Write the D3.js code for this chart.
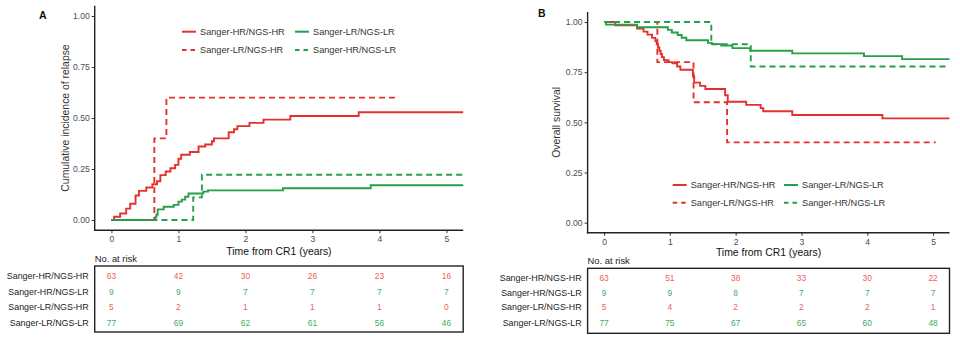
<!DOCTYPE html>
<html>
<head>
<meta charset="utf-8">
<script src="https://cdn.jsdelivr.net/npm/d3@7"></script>
<style>
  body { margin: 0; background: #fff; }
  svg { display: block; font-family: "Liberation Sans", Arial, sans-serif; }
</style>
</head>
<body>
<svg id="chart" width="960" height="340"></svg>
<script>
// tick values and labels
const timeTicks = [0, 1, 2, 3, 4, 5];
const probTicks = [0, 0.25, 0.5, 0.75, 1];
const legendNames = ["Sanger-HR/NGS-HR", "Sanger-LR/NGS-LR", "Sanger-LR/NGS-HR", "Sanger-HR/NGS-LR"];
const riskRowNames = ["Sanger-HR/NGS-HR", "Sanger-HR/NGS-LR", "Sanger-LR/NGS-HR", "Sanger-LR/NGS-LR"];

// Panel A: cumulative incidence of relapse (step times and values)
const relHRHR_t = [0, 0.04, 0.13, 0.22, 0.28, 0.36, 0.41, 0.52, 0.61, 0.68, 0.73, 0.81, 0.88, 0.95, 1.00, 1.04, 1.17, 1.30, 1.40, 1.50, 1.53, 1.75, 1.83, 1.88, 2.06, 2.27, 2.67, 3.69, 5.25];
const relHRHR_v = [0, 0.016, 0.032, 0.056, 0.08, 0.12, 0.143, 0.159, 0.175, 0.19, 0.22, 0.238, 0.254, 0.27, 0.30, 0.32, 0.333, 0.36, 0.37, 0.386, 0.40, 0.43, 0.445, 0.46, 0.476, 0.492, 0.51, 0.528, 0.528];
const relLRLR_t = [0, 0.65, 0.67, 0.69, 0.78, 0.93, 1.00, 1.05, 1.10, 1.15, 1.37, 1.44, 2.56, 3.87, 5.25];
const relLRLR_v = [0, 0.013, 0.026, 0.052, 0.065, 0.074, 0.09, 0.10, 0.114, 0.13, 0.139, 0.145, 0.156, 0.17, 0.17];
const relLRHR_t = [0, 0.64, 0.82, 4.23];
const relLRHR_v = [0, 0.40, 0.60, 0.60];
const relHRLR_t = [0, 1.22, 1.35, 5.25];
const relHRLR_v = [0, 0.111, 0.222, 0.222];

// Panel B: overall survival
const osHRHR_t = [0, 0.17, 0.50, 0.60, 0.66, 0.73, 0.78, 0.80, 0.82, 0.84, 0.86, 0.88, 0.91, 0.98, 1.04, 1.11, 1.16, 1.35, 1.37, 1.46, 1.54, 1.84, 1.88, 2.16, 2.38, 2.42, 2.86, 4.23, 5.25];
const osHRHR_v = [1, 0.984, 0.968, 0.952, 0.937, 0.921, 0.905, 0.889, 0.873, 0.857, 0.841, 0.825, 0.810, 0.800, 0.794, 0.778, 0.762, 0.730, 0.698, 0.682, 0.666, 0.635, 0.603, 0.587, 0.571, 0.555, 0.537, 0.52, 0.52];
const osLRLR_t = [0, 0.03, 0.50, 0.97, 1.03, 1.12, 1.18, 1.25, 1.58, 1.64, 1.78, 1.95, 2.22, 2.86, 3.95, 4.53, 5.25];
const osLRLR_v = [1, 0.987, 0.974, 0.961, 0.948, 0.935, 0.922, 0.909, 0.896, 0.89, 0.883, 0.87, 0.857, 0.844, 0.83, 0.815, 0.815];
const osLRHR_t = [0, 0.81, 1.36, 1.87, 5.04];
const osLRHR_v = [1, 0.80, 0.60, 0.40, 0.40];
const osHRLR_t = [0, 1.63, 2.23, 5.25];
const osHRLR_v = [1, 0.889, 0.778, 0.778];

// numbers at risk (rows follow riskRowNames)
const riskA = [[63, 42, 30, 26, 23, 16], [9, 9, 7, 7, 7, 7], [5, 2, 1, 1, 1, 0], [77, 69, 62, 61, 56, 46]];
const riskB = [[63, 51, 38, 33, 30, 22], [9, 9, 8, 7, 7, 7], [5, 4, 2, 2, 2, 1], [77, 75, 67, 65, 60, 48]];

const RED = "#e4312d";
const GREEN = "#25a047";
const RED_TXT = "#ee5f5b";
const GREEN_TXT = "#46ab63";

const svg = d3.select("#chart");

function drawPanel(p) {
    const x = d3.scaleLinear().domain([-0.25, 5.25]).range([p.left, p.right]);
    const y = d3.scaleLinear().domain([-0.05, 1.05]).range([p.bottom, p.top]);
    const g = svg.append("g");

    // panel letter
    g.append("text").attr("x", p.letterX).attr("y", p.letterY)
        .attr("font-size", 10.5).attr("font-weight", "bold").attr("fill", "#111")
        .attr("dominant-baseline", "central").text(p.letter);

    // y axis
    const ya = g.append("g").attr("transform", "translate(" + p.left + ",0)")
        .call(d3.axisLeft(y).tickValues(probTicks).tickFormat(d3.format(".2f")).tickSize(3).tickPadding(2));
    ya.select(".domain").remove();
    ya.selectAll("line").attr("stroke", "#333");
    ya.selectAll("text").attr("fill", "#4d4d4d").attr("font-size", 8.6).attr("font-family", null);

    // x axis
    const xa = g.append("g").attr("transform", "translate(0," + p.bottom + ")")
        .call(d3.axisBottom(x).tickValues(timeTicks).tickFormat(d3.format("d")).tickSize(3).tickPadding(3));
    xa.select(".domain").remove();
    xa.selectAll("line").attr("stroke", "#333");
    xa.selectAll("text").attr("fill", "#4d4d4d").attr("font-size", 8.6).attr("font-family", null);

    // axis lines
    g.append("line").attr("x1", p.left).attr("x2", p.left).attr("y1", p.top).attr("y2", p.bottom + 0.7)
        .attr("stroke", "#222").attr("stroke-width", 1.4);
    g.append("line").attr("x1", p.left - 0.7).attr("x2", p.right).attr("y1", p.bottom).attr("y2", p.bottom)
        .attr("stroke", "#222").attr("stroke-width", 1.4);

    // axis titles
    g.append("text").attr("transform", "translate(" + p.yTitleX + "," + ((p.top + p.bottom) / 2) + ") rotate(-90)")
        .attr("text-anchor", "middle").attr("dominant-baseline", "central")
        .attr("font-size", 10.4).attr("fill", "#333").text(p.yTitle);
    g.append("text").attr("x", (p.left + p.right) / 2).attr("y", p.xTitleY)
        .attr("text-anchor", "middle").attr("font-size", 10.4).attr("fill", "#111")
        .text("Time from CR1 (years)");

    // curves
    const line = d3.line().x(d => x(d[0])).y(d => y(d[1])).curve(d3.curveStepAfter);
    p.curves.forEach(c => {
        const pts = c.t.map((t, i) => [t, c.v[i]]);
        g.append("path").datum(pts).attr("d", line)
            .attr("fill", "none").attr("stroke", c.color).attr("stroke-width", 1.9)
            .attr("stroke-dasharray", c.dashed ? "6,4" : null);
    });

    // legend
    p.curves.forEach((c, i) => {
        const lx = p.legX[i % 2];
        const ly = p.legY[Math.floor(i / 2)];
        g.append("line").attr("x1", lx).attr("x2", lx + 14).attr("y1", ly).attr("y2", ly)
            .attr("stroke", c.color).attr("stroke-width", 2)
            .attr("stroke-dasharray", c.dashed ? "4.5,4" : null);
        g.append("text").attr("x", lx + 18).attr("y", ly).attr("dominant-baseline", "central")
            .attr("font-size", 9.2).attr("fill", "#333").text(c.name);
    });

    // risk table
    g.append("text").attr("x", p.left).attr("y", p.riskTitleY).attr("dominant-baseline", "central")
        .attr("font-size", 9.4).attr("fill", "#222").text("No. at risk");
    g.append("rect").attr("x", p.left).attr("y", p.boxTop)
        .attr("width", p.right - p.left).attr("height", p.boxBottom - p.boxTop)
        .attr("fill", "none").attr("stroke", "#222").attr("stroke-width", 1.4);
    p.risk.forEach((row, r) => {
        const ry = p.rowY[r];
        g.append("text").attr("x", p.left - 6).attr("y", ry).attr("text-anchor", "end")
            .attr("dominant-baseline", "central").attr("font-size", 8.9).attr("fill", "#222")
            .text(riskRowNames[r]);
        const col = riskRowNames[r].endsWith("NGS-HR") ? RED_TXT : GREEN_TXT;
        row.forEach((n, k) => {
            g.append("text").attr("x", x(timeTicks[k])).attr("y", ry).attr("text-anchor", "middle")
                .attr("dominant-baseline", "central").attr("font-size", 8.4).attr("fill", col).text(n);
        });
    });
}

drawPanel({
    letter: "A", letterX: 39, letterY: 15,
    left: 94.7, right: 463.2, top: 5.8, bottom: 230.2,
    yTitle: "Cumulative incidence of relapse", yTitleX: 65, xTitleY: 254.5,
    legX: [182, 295], legY: [31.7, 50],
    riskTitleY: 258.5, boxTop: 266, boxBottom: 332, rowY: [276, 292, 307.4, 322.7],
    risk: riskA,
    curves: [
        {name: legendNames[0], t: relHRHR_t, v: relHRHR_v, color: RED, dashed: false},
        {name: legendNames[1], t: relLRLR_t, v: relLRLR_v, color: GREEN, dashed: false},
        {name: legendNames[2], t: relLRHR_t, v: relLRHR_v, color: RED, dashed: true},
        {name: legendNames[3], t: relHRLR_t, v: relHRLR_v, color: GREEN, dashed: true}
    ]
});

drawPanel({
    letter: "B", letterX: 538, letterY: 13,
    left: 587.6, right: 949.5, top: 12, bottom: 232.7,
    yTitle: "Overall survival", yTitleX: 556, xTitleY: 256,
    legX: [672.7, 784], legY: [185, 202.7],
    riskTitleY: 260.5, boxTop: 268.3, boxBottom: 333.3, rowY: [278.3, 292.5, 307.4, 322.7],
    risk: riskB,
    curves: [
        {name: legendNames[0], t: osHRHR_t, v: osHRHR_v, color: RED, dashed: false},
        {name: legendNames[1], t: osLRLR_t, v: osLRLR_v, color: GREEN, dashed: false},
        {name: legendNames[2], t: osLRHR_t, v: osLRHR_v, color: RED, dashed: true},
        {name: legendNames[3], t: osHRLR_t, v: osHRLR_v, color: GREEN, dashed: true}
    ]
});
</script>
</body>
</html>
